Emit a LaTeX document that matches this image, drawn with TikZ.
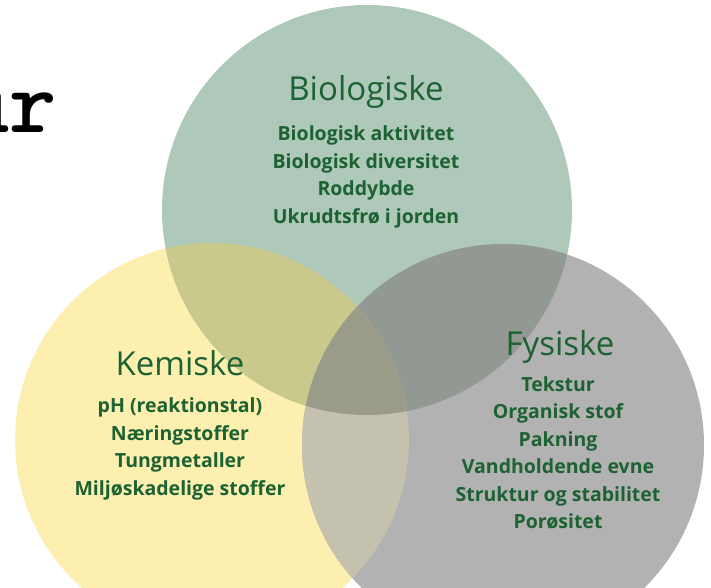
\documentclass[tikz,border=0pt]{standalone}
\usepackage{fontspec}
\setmainfont{Open Sans}

\definecolor{biogreen}{RGB}{174,200,186}
\definecolor{kemyellow}{RGB}{252,239,176}
\definecolor{fysgrey}{RGB}{178,178,178}
\definecolor{bioKem}{RGB}{201,201,140}
\definecolor{bioFys}{RGB}{145,153,146}
\definecolor{kemFys}{RGB}{196,193,174}
\definecolor{allThree}{RGB}{154,155,137}
\definecolor{venntext}{RGB}{28,98,50}

\begin{document}
\begin{tikzpicture}[x=1pt,y=-1pt,
    title/.style={text=venntext,font=\fontsize{33}{33}\selectfont},
    items/.style={text=venntext,align=center,font=\bfseries\fontsize{19.5}{27.5}\selectfont}]
        \useasboundingbox (0,0) rectangle (711,587);
        \clip (0,0) rectangle (711,587);
        % the three circles
        \fill [kemyellow] (212,440)circle[radius=197];
        \fill [biogreen] (367,210)circle[radius=205];
        \fill [fysgrey] (503,445)circle[radius=201];
        % overlaps
        \begin{scope}
          \clip (367,210)circle[radius=205];
          \fill [bioKem] (212,440)circle[radius=197];
          \fill [bioFys] (503,445)circle[radius=201];
        \end{scope}
        \begin{scope}
          \clip (212,440)circle[radius=197];
          \fill [kemFys] (503,445)circle[radius=201];
          \clip (367,210)circle[radius=205];
          \fill [allThree] (503,445)circle[radius=201];
        \end{scope}
        % cut off heading at the left
        \node (head) [anchor=base west,inner sep=0pt,font=\ttfamily\bfseries\fontsize{90}{90}\selectfont] at (-38,132) {ur};
        % texts
        \node (bio) [title] at (366,92) {Biologiske};
        \node (bioitems) [items] at (366,177) {Biologisk aktivitet\\Biologisk diversitet\\Roddybde\\Ukrudtsfrø i jorden};
        \node (kem) [title] at (180,363) {Kemiske};
        \node (kemitems) [items] at (180,449) {pH (reaktionstal)\\Næringstoffer\\Tungmetaller\\Miljøskadelige stoffer};
        \node (fys) [title] at (560,347) {Fysiske};
        \node (fysitems) [items] at (558,453) {Tekstur\\Organisk stof\\Pakning\\Vandholdende evne\\Struktur og stabilitet\\Porøsitet};
      \end{tikzpicture}
\end{document}
